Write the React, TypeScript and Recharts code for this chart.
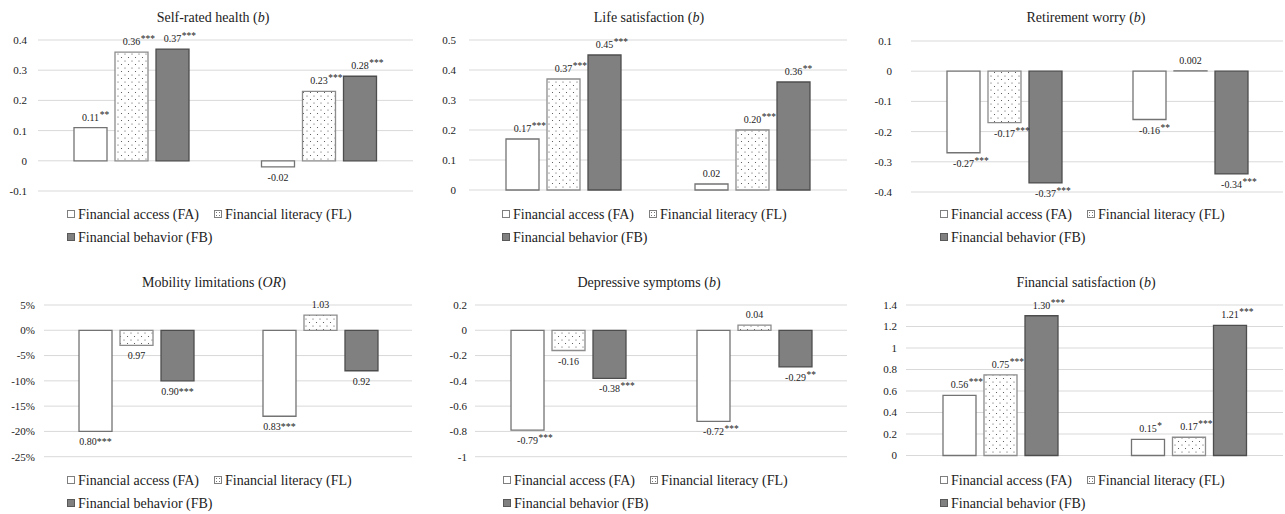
import React from "react";
import { BarChart, Bar, XAxis, YAxis, CartesianGrid, LabelList } from "recharts";

// two model groups, no category labels shown in the figure
const groups = ["Model 1", "Model 2"];

const healthFA = [0.11, -0.02];
const healthFL = [0.36, 0.23];
const healthFB = [0.37, 0.28];
const healthLabels = { FA: ["0.11**", "-0.02"], FL: ["0.36***", "0.23***"], FB: ["0.37***", "0.28***"] };
const healthTicks = [-0.1, 0, 0.1, 0.2, 0.3, 0.4];

const lifeFA = [0.17, 0.02];
const lifeFL = [0.37, 0.2];
const lifeFB = [0.45, 0.36];
const lifeLabels = { FA: ["0.17***", "0.02"], FL: ["0.37***", "0.20***"], FB: ["0.45***", "0.36**"] };
const lifeTicks = [0, 0.1, 0.2, 0.3, 0.4, 0.5];

const worryFA = [-0.27, -0.16];
const worryFL = [-0.17, 0.002];
const worryFB = [-0.37, -0.34];
const worryLabels = { FA: ["-0.27***", "-0.16**"], FL: ["-0.17***", "0.002"], FB: ["-0.37***", "-0.34***"] };
const worryTicks = [-0.4, -0.3, -0.2, -0.1, 0, 0.1];

const mobilityFA = [-20, -17];
const mobilityFL = [-3, 3];
const mobilityFB = [-10, -8];
const mobilityLabels = { FA: ["0.80***", "0.83***"], FL: ["0.97", "1.03"], FB: ["0.90***", "0.92"] };
const mobilityTicks = [-25, -20, -15, -10, -5, 0, 5];

const depressFA = [-0.79, -0.72];
const depressFL = [-0.16, 0.04];
const depressFB = [-0.38, -0.29];
const depressLabels = { FA: ["-0.79***", "-0.72***"], FL: ["-0.16", "0.04"], FB: ["-0.38***", "-0.29**"] };
const depressTicks = [-1, -0.8, -0.6, -0.4, -0.2, 0, 0.2];

const finSatFA = [0.56, 0.15];
const finSatFL = [0.75, 0.17];
const finSatFB = [1.3, 1.21];
const finSatLabels = { FA: ["0.56***", "0.15*"], FL: ["0.75***", "0.17***"], FB: ["1.30***", "1.21***"] };
const finSatTicks = [0, 0.2, 0.4, 0.6, 0.8, 1, 1.2, 1.4];

const seriesNames = {
  FA: "Financial access (FA)",
  FL: "Financial literacy (FL)",
  FB: "Financial behavior (FB)",
};

const FONT = "'Times New Roman', 'Liberation Serif', Times, 'DejaVu Serif', serif";
const TEXT = "#222";

const charW: Record<string, number> = { ".": 0.25, "-": 0.333, "%": 0.833, "*": 0.5 };
const textW = (s: string, size: number) => [...s].reduce((a, c) => a + (charW[c] ?? 0.5), 0) * size;

function makeLabel(texts: string[], superStars: boolean) {
  return (props: any) => {
    const vb = props.viewBox ?? props;
    const x = props.x ?? vb.x;
    const y = props.y ?? vb.y;
    const width = props.width ?? vb.width;
    const height = props.height ?? vb.height;
    const index = props.index ?? 0;
    const value = Number(props.value);
    const text = texts[index] ?? "";
    const cx = x + width / 2;
    const top = Math.min(y, y + height);
    const bottom = Math.max(y, y + height);
    const base = value >= 0 ? top - 7 : bottom + 14;
    if (!superStars) {
      return (
        <text x={cx} y={base} textAnchor="middle" fontSize={10} style={{ fontFamily: FONT }} fill={TEXT}>
          {text}
        </text>
      );
    }
    const num = text.replace(/\*+$/, "");
    const stars = text.slice(num.length);
    return (
      <g>
        <text x={cx} y={base} textAnchor="middle" fontSize={10} style={{ fontFamily: FONT }} fill={TEXT}>
          {num}
        </text>
        {stars && (
          <text x={cx + textW(num, 10) / 2 + 0.5} y={base - 3} fontSize={9.5} style={{ fontFamily: FONT }} fill={TEXT}>
            {stars}
          </text>
        )}
      </g>
    );
  };
}

function LegendBox({ left, top }: { left: number; top: number }) {
  const icon = (bg: string, border: string, dotted = false) => (
    <span
      style={{
        display: "inline-block",
        width: 6,
        height: 6,
        border: `1px solid ${border}`,
        background: bg,
        backgroundImage: dotted ? "radial-gradient(#777 0.6px, transparent 0.8px)" : undefined,
        backgroundSize: dotted ? "3px 3px" : undefined,
        marginRight: 3,
        marginBottom: 1,
        verticalAlign: "baseline",
      }}
    />
  );
  return (
    <div
      style={{
        position: "absolute",
        left,
        top,
        width: 380,
        fontFamily: FONT,
        fontSize: 14,
        lineHeight: "23px",
        color: TEXT,
        whiteSpace: "nowrap",
      }}
    >
      <div>
        <span style={{ marginRight: 15 }}>
          {icon("#fff", "#7f7f7f")}
          {seriesNames.FA}
        </span>
        <span>
          {icon("#fff", "#7f7f7f", true)}
          {seriesNames.FL}
        </span>
      </div>
      <div>
        {icon("#808080", "#595959")}
        {seriesNames.FB}
      </div>
    </div>
  );
}

type PanelProps = {
  id: string;
  title: string;
  italic: string;
  titleCenter: number;
  titleTop: number;
  legendLeft: number;
  legendTop: number;
  plot: { x: number; y: number; w: number; h: number };
  gap: number;
  fa: number[];
  fl: number[];
  fb: number[];
  labels: { FA: string[]; FL: string[]; FB: string[] };
  ticks: number[];
  percent?: boolean;
  superStars?: boolean;
};

function Panel(p: PanelProps) {
  const yw = 44;
  const M = 26;
  const data = groups.map((g, i) => ({ group: g, FA: p.fa[i], FL: p.fl[i], FB: p.fb[i] }));
  const superStars = p.superStars !== false;
  const patId = `dots-${p.id}`;
  return (
    <>
      <div
        style={{
          position: "absolute",
          left: p.titleCenter - 150,
          top: p.titleTop,
          width: 300,
          textAlign: "center",
          fontFamily: FONT,
          fontSize: 14,
          lineHeight: "16px",
          color: TEXT,
        }}
      >
        {p.title} (<i>{p.italic}</i>)
      </div>
      <div style={{ position: "absolute", left: p.plot.x - yw, top: p.plot.y - M }}>
        <BarChart
          width={p.plot.w + yw}
          height={p.plot.h + 2 * M}
          data={data}
          margin={{ top: M, right: 0, bottom: M, left: 0 }}
          barSize={33}
          barGap={8}
          style={{ fontFamily: FONT }}
        >
          <defs>
            <pattern id={patId} width={7} height={7} patternUnits="userSpaceOnUse">
              <rect width={7} height={7} fill="#fff" />
              <circle cx={1.5} cy={1.5} r={0.55} fill="#444" />
              <circle cx={5} cy={5} r={0.55} fill="#444" />
            </pattern>
          </defs>
          <CartesianGrid vertical={false} stroke="#d9d9d9" />
          <XAxis dataKey="group" hide />
          <YAxis
            width={yw}
            domain={[p.ticks[0], p.ticks[p.ticks.length - 1]]}
            ticks={p.ticks}
            interval={0}
            axisLine={false}
            tickLine={false}
            tickSize={0}
            tickMargin={p.gap}
            tick={{ fill: TEXT, fontSize: 11, style: { fontFamily: FONT } }}
            tickFormatter={(v) => (p.percent ? `${v}%` : String(v))}
          />
          <Bar dataKey="FA" fill="#fff" stroke="#737373" strokeWidth={1.3} isAnimationActive={false}>
            <LabelList dataKey="FA" content={makeLabel(p.labels.FA, superStars)} />
          </Bar>
          <Bar dataKey="FL" fill={`url(#${patId})`} stroke="#8c8c8c" strokeWidth={1.3} isAnimationActive={false}>
            <LabelList dataKey="FL" content={makeLabel(p.labels.FL, superStars)} />
          </Bar>
          <Bar dataKey="FB" fill="#808080" stroke="#4d4d4d" strokeWidth={1.3} isAnimationActive={false}>
            <LabelList dataKey="FB" content={makeLabel(p.labels.FB, superStars)} />
          </Bar>
        </BarChart>
      </div>
      <LegendBox left={p.legendLeft} top={p.legendTop} />
    </>
  );
}

export default function App() {
  return (
    <div style={{ position: "absolute", left: 0, top: 0, width: 1285, height: 514, background: "#fff", overflow: "hidden", fontFamily: FONT }}>
      <Panel
        id="health" title="Self-rated health" italic="b" titleCenter={213} titleTop={9.5}
        legendLeft={67} legendTop={203} plot={{ x: 38, y: 39.5, w: 375, h: 151 }} gap={11}
        fa={healthFA} fl={healthFL} fb={healthFB} labels={healthLabels} ticks={healthTicks}
      />
      <Panel
        id="life" title="Life satisfaction" italic="b" titleCenter={649} titleTop={9.5}
        legendLeft={502} legendTop={203} plot={{ x: 469, y: 40, w: 378, h: 150 }} gap={13}
        fa={lifeFA} fl={lifeFL} fb={lifeFB} labels={lifeLabels} ticks={lifeTicks}
      />
      <Panel
        id="worry" title="Retirement worry" italic="b" titleCenter={1086} titleTop={10}
        legendLeft={940} legendTop={203} plot={{ x: 911, y: 41, w: 372, h: 151 }} gap={19}
        fa={worryFA} fl={worryFL} fb={worryFB} labels={worryLabels} ticks={worryTicks}
      />
      <Panel
        id="mobility" title="Mobility limitations" italic="OR" titleCenter={214} titleTop={275}
        legendLeft={67} legendTop={469} plot={{ x: 44, y: 305, w: 368, h: 151.7 }} gap={9}
        fa={mobilityFA} fl={mobilityFL} fb={mobilityFB} labels={mobilityLabels} ticks={mobilityTicks}
        percent superStars={false}
      />
      <Panel
        id="depress" title="Depressive symptoms" italic="b" titleCenter={649} titleTop={275}
        legendLeft={503} legendTop={469} plot={{ x: 474.5, y: 305.3, w: 372, h: 151.7 }} gap={8}
        fa={depressFA} fl={depressFL} fb={depressFB} labels={depressLabels} ticks={depressTicks}
      />
      <Panel
        id="finsat" title="Financial satisfaction" italic="b" titleCenter={1086} titleTop={275}
        legendLeft={940} legendTop={469} plot={{ x: 906, y: 305, w: 377, h: 150.5 }} gap={9}
        fa={finSatFA} fl={finSatFL} fb={finSatFB} labels={finSatLabels} ticks={finSatTicks}
      />
    </div>
  );
}
